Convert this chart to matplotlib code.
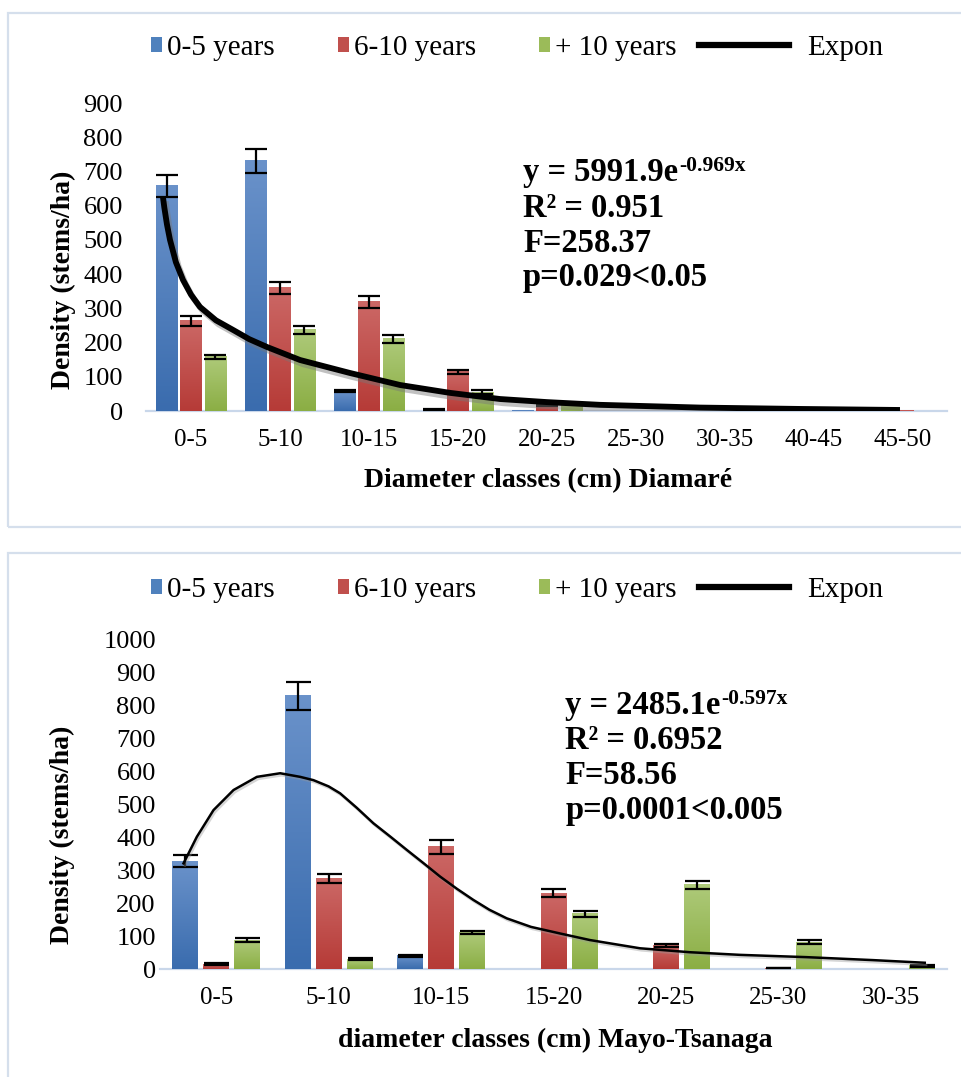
import numpy as np
import matplotlib
matplotlib.use('Agg')
import matplotlib.pyplot as plt
from matplotlib.patches import Patch, Rectangle
from matplotlib.lines import Line2D
from matplotlib.colors import LinearSegmentedColormap
import matplotlib.patheffects as pe

plt.rcParams['font.family'] = ['Liberation Serif', 'DejaVu Serif']

# --- Diamaré (top chart) ---
klasser_1 = ['0-5', '5-10', '10-15', '15-20', '20-25', '25-30', '30-35', '40-45', '45-50']
blaa_1 = [658, 731, 58, 4, 2, 0, 0, 0, 0]
blaa_1_err = [33, 35, 3, 1, 0, 0, 0, 0, 0]
rod_1 = [263, 360, 319, 114, 18, 0, 0, 0, 2]
rod_1_err = [15, 18, 17, 7, 2, 0, 0, 0, 0]
gronn_1 = [158, 237, 211, 55, 22, 0, 0, 0, 0]
gronn_1_err = [7, 12, 12, 5, 2, 0, 0, 0, 0]
# trend curve (x in category units)
trend_1_x = [-0.315, -0.30, -0.27, -0.236, -0.17, -0.09, 0.0, 0.101, 0.28, 0.472, 0.654,
             0.854, 1.225, 1.787, 2.348, 2.910, 3.472, 4.0, 4.596, 5.719, 6.843, 7.966]
trend_1_y = [625, 595, 545, 500, 435, 383, 340, 304, 265, 237, 210,
             187, 149, 111, 76, 53, 35, 26, 18, 10, 6, 3]

# --- Mayo-Tsanaga (bottom chart) ---
klasser_2 = ['0-5', '5-10', '10-15', '15-20', '20-25', '25-30', '30-35']
blaa_2 = [328, 830, 40, 0, 0, 0, 0]
blaa_2_err = [18, 43, 3, 0, 0, 0, 0]
rod_2 = [15, 274, 371, 231, 72, 3, 0]
rod_2_err = [3, 14, 20, 13, 5, 1, 0]
gronn_2 = [88, 30, 110, 168, 256, 82, 10]
gronn_2_err = [7, 3, 5, 9, 12, 5, 3]
trend_2_x = [-0.291, -0.172, -0.024, 0.154, 0.362, 0.569, 0.747, 0.865, 1.0, 1.102,
             1.25, 1.398, 1.55, 1.695, 1.85, 1.991, 2.14, 2.287, 2.43, 2.584, 2.8,
             3.058, 3.324, 3.769, 4.213, 4.658, 5.251, 5.843, 6.302]
trend_2_y = [321, 402, 483, 544, 584, 595, 584, 574, 555, 534,
             490, 443, 402, 362, 320, 281, 244, 210, 180, 154, 128,
             108, 88, 63, 51, 43, 36, 27, 19]

etiketter = ['0-5 years', '6-10 years', '+ 10 years']
farger = ['#4F81BD', '#C0504D', '#9BBB59']
farge_topp = ['#6A92CA', '#CC6866', '#AECA7A']
farge_bunn = ['#3A6CAE', '#B63B37', '#8BAE44']

W, H = 962, 1077
fig = plt.figure(figsize=(W / 100, H / 100), dpi=100)

# ramme rundt hvert diagram
fig.patches.append(Rectangle((8 / W, 1 - 527 / H), 960 / W, 514 / H, transform=fig.transFigure,
                             fill=False, edgecolor='#D5DFEC', lw=1.6))
fig.patches.append(Rectangle((8 / W, 1 - 1085 / H), 960 / W, 532 / H, transform=fig.transFigure,
                             fill=False, edgecolor='#D5DFEC', lw=1.6))

ax1 = fig.add_axes([146.5 / W, 1 - 411 / H, 801 / W, 308 / H])
ax2 = fig.add_axes([160 / W, 1 - 969 / H, 787 / W, 329 / H])


def tegn_stolper(ax, klasser, serier, feil, bredde, avstand, capsize):
    x = np.arange(len(klasser))
    for k in range(3):
        verdier = np.array(serier[k], dtype=float)
        e = np.array(feil[k], dtype=float)
        pos = x + (k - 1) * avstand
        bars = ax.bar(pos, verdier, bredde, color=farger[k], zorder=2)
        cmap = LinearSegmentedColormap.from_list('g%d' % k, [farge_topp[k], farge_bunn[k]])
        grad = np.linspace(0, 1, 100).reshape(-1, 1)
        for b in bars:
            h = b.get_height()
            if h <= 0:
                continue
            x0 = b.get_x()
            ax.imshow(grad, extent=[x0, x0 + b.get_width(), 0, h], origin='upper',
                      cmap=cmap, aspect='auto', zorder=2.5, interpolation='bilinear')
        idx = e > 0
        ax.errorbar(pos[idx], verdier[idx], yerr=e[idx], fmt='none', ecolor='black',
                    elinewidth=1.6, capsize=capsize, capthick=1.6, zorder=4)
    ax.set_xticks(x)
    ax.set_xticklabels(klasser)
    ax.set_xlim(-0.5, len(klasser) - 0.5)


def pynt_akse(ax, ytopp, ypad):
    ax.set_ylim(0, ytopp)
    ax.set_yticks(np.arange(0, ytopp + 1, 100))
    for s in ['top', 'right', 'left']:
        ax.spines[s].set_visible(False)
    ax.spines['bottom'].set_color('#C9D7EA')
    ax.spines['bottom'].set_linewidth(1.6)
    ax.spines['bottom'].set_zorder(1)
    ax.tick_params(axis='both', length=0)
    ax.tick_params(axis='x', labelsize=18, pad=13)
    ax.tick_params(axis='y', labelsize=19, pad=ypad)


# øverste diagram
tegn_stolper(ax1, klasser_1, [blaa_1, rod_1, gronn_1], [blaa_1_err, rod_1_err, gronn_1_err],
             0.236, 0.275, 8)
ax1.plot(trend_1_x, trend_1_y, color='black', lw=4.2, solid_capstyle='butt',
         solid_joinstyle='round', zorder=5,
         path_effects=[pe.SimpleLineShadow(offset=(2, -3), shadow_color='#777777', alpha=0.45),
                       pe.Normal()])
pynt_akse(ax1, 900, 17)
ax1.set_xlabel('Diameter classes (cm) Diamaré', fontsize=20, fontweight='bold')
ax1.xaxis.set_label_coords(0.501, -0.227)
ax1.xaxis.label.set_va('center')
ax1.set_ylabel('Density (stems/ha)', fontsize=20, fontweight='bold')
ax1.yaxis.set_label_coords(-0.104, 0.425)
ax1.yaxis.label.set_va('center')

# øverste tekst med likning
t1 = ax1.text(0.470, (411 - 181) / 308, 'y = 5991.9e', transform=ax1.transAxes,
              fontsize=23.5, fontweight='bold', va='baseline')
ax1.annotate('-0.969x', xy=(1.0, 1.0), xycoords=t1, xytext=(0.5, 1), textcoords='offset points',
             fontsize=15.5, fontweight='bold', va='top', ha='left')
for tekst, yb in [('R² = 0.951', 217), ('F=258.37', 252), ('p=0.029<0.05', 286)]:
    ax1.text(0.470, (411 - yb) / 308, tekst, transform=ax1.transAxes,
             fontsize=23.5, fontweight='bold', va='baseline')

# nederste diagram
tegn_stolper(ax2, klasser_2, [blaa_2, rod_2, gronn_2], [blaa_2_err, rod_2_err, gronn_2_err],
             0.23, 0.276, 9)
ax2.plot(trend_2_x, trend_2_y, color='black', lw=1.8, solid_joinstyle='round', zorder=5,
         path_effects=[pe.SimpleLineShadow(offset=(1, -1.5), shadow_color='#999999', alpha=0.4),
                       pe.Normal()])
pynt_akse(ax2, 1000, 3)
ax2.set_xlabel('diameter classes (cm) Mayo-Tsanaga', fontsize=20, fontweight='bold')
ax2.xaxis.set_label_coords(0.502, (969 - 1040) / 329)
ax2.xaxis.label.set_va('center')
ax2.set_ylabel('Density (stems/ha)', fontsize=20, fontweight='bold')
ax2.yaxis.set_label_coords(-0.124, 0.407)
ax2.yaxis.label.set_va('center')

t2 = ax2.text(0.515, (969 - 714) / 329, 'y = 2485.1e', transform=ax2.transAxes,
              fontsize=23.5, fontweight='bold', va='baseline')
ax2.annotate('-0.597x', xy=(1.0, 1.0), xycoords=t2, xytext=(0.5, 1), textcoords='offset points',
             fontsize=15.5, fontweight='bold', va='top', ha='left')
for tekst, yb in [('R² = 0.6952', 749), ('F=58.56', 784), ('p=0.0001<0.005', 819)]:
    ax2.text(0.515, (969 - yb) / 329, tekst, transform=ax2.transAxes,
             fontsize=23.5, fontweight='bold', va='baseline')

# forklaringer (legend) over hvert diagram
for ylegend in [48, 590]:
    fig.legend([Patch(facecolor=c) for c in farger], etiketter, loc='center left',
               bbox_to_anchor=(151 / W, 1 - ylegend / H), ncol=3, frameon=False, fontsize=21,
               handlelength=0.38, handleheight=0.45, handletextpad=0.18, columnspacing=2.15,
               borderpad=0, borderaxespad=0)
    fig.legend([Line2D([], [], color='black', lw=4.5)], ['Expon'], loc='center left',
               bbox_to_anchor=(699 / W, 1 - ylegend / H), frameon=False, fontsize=21,
               handlelength=3.1, handletextpad=0.6, borderpad=0, borderaxespad=0)

fig.savefig('out.png', dpi=100)
